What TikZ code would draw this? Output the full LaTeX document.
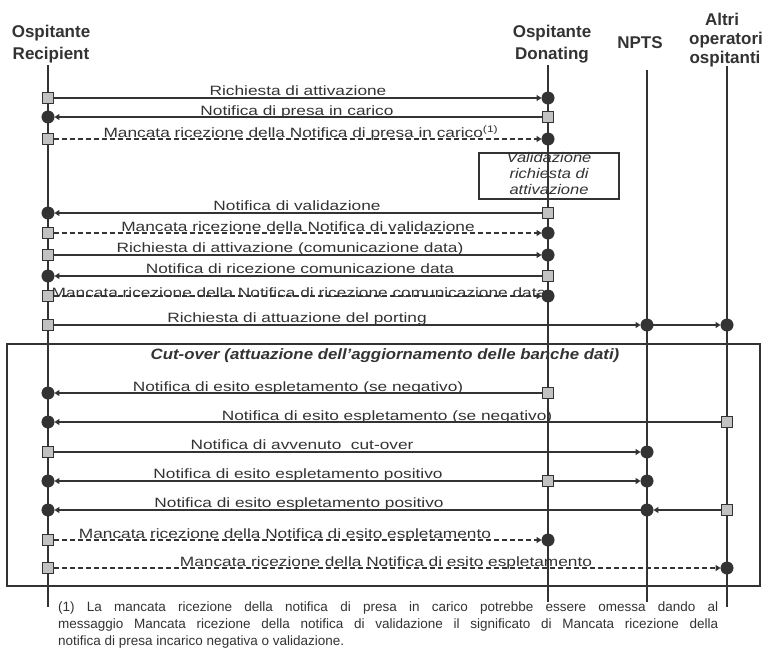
\documentclass[tikz,border=0pt]{standalone}
\usepackage{fontspec}
\setmainfont{Liberation Sans}
\usepackage{graphicx}
\usetikzlibrary{arrows.meta}
\definecolor{ink}{HTML}{333333}
\definecolor{sqfill}{HTML}{C2C2C2}
\newcommand{\wlbl}[1]{\scalebox{1.28}[1]{#1}}
\begin{document}
\begin{tikzpicture}[x=1pt,y=-1pt,
  every node/.style={text=ink},
  lifethick/.style={draw=ink,line width=2.1pt},
  lifethin/.style={draw=ink,line width=1.1pt},
  lifemid/.style={draw=ink,line width=1.6pt},
  sq/.style={rectangle,draw=ink,fill=sqfill,line width=1.3pt,minimum size=11pt,inner sep=0pt},
  dot/.style={circle,draw=ink,fill=ink,minimum size=12.5pt,inner sep=0pt},
  msgthin/.style={draw=ink,line width=1.1pt},
  msgthick/.style={draw=ink,line width=2pt},
  arr/.style={-{Triangle[length=5pt,width=6pt]}},
  dsh/.style={dash pattern=on 5pt off 3pt},
  lbl/.style={anchor=base,inner sep=0pt,font=\fontsize{13.5}{16}\selectfont},
  hdr/.style={anchor=base,inner sep=0pt,font=\fontsize{17}{20}\selectfont\bfseries}]
\fill[white] (0,0) rectangle (767,648);
\useasboundingbox (0,0) rectangle (767,648);

% headers
\node[hdr] (hR1) at (51,37) {Ospitante};
\node[hdr] (hR2) at (51,59) {Recipient};
\node[hdr] (hD1) at (552,37) {Ospitante};
\node[hdr] (hD2) at (552,59) {Donating};
\node[hdr] (hN) at (640,48) {NPTS};
\node[hdr] (hA1) at (722,25) {Altri};
\node[hdr] (hA2) at (726,44) {operatori};
\node[hdr] (hA3) at (725,63) {ospitanti};

% lifelines
\coordinate (Rt) at (48,65); \coordinate (Rb) at (48,607);
\coordinate (Dt) at (548,65); \coordinate (Db) at (548,602);
\coordinate (Nt) at (647,70); \coordinate (Nb) at (647,602);
\coordinate (At) at (727,66); \coordinate (Ab) at (727,607);
\draw[lifethick] (Rt) -- (Rb);
\draw[lifethin] (Dt) -- (Db);
\draw[lifethick] (Nt) -- (Nb);
\draw[lifemid] (At) -- (Ab);

% boxes
\node[draw=ink,line width=1.6pt,minimum width=140pt,minimum height=46pt,inner sep=0pt] (val) at (549,176) {};
\node[align=center,inner sep=0pt,font=\fontsize{14}{16}\selectfont\itshape] (valtxt) at (549,173)
  {\scalebox{1.18}[1]{Validazione}\\\scalebox{1.18}[1]{richiesta di}\\\scalebox{1.18}[1]{attivazione}};
\node[draw=ink,line width=2pt,minimum width=753pt,minimum height=242pt,inner sep=0pt] (cutbox) at (383.5,465) {};
\node[anchor=base,inner sep=0pt,font=\fontsize{15}{18}\selectfont\bfseries\itshape] (cut) at (385,359)
  {\scalebox{1.12}[1]{Cut-over (attuazione dell’aggiornamento delle banche dati)}};

% markers
\node[sq] (s1) at (48,98) {};   \node[dot] (d1) at (548,98) {};
\node[sq] (s2) at (548,117) {}; \node[dot] (d2) at (48,117) {};
\node[sq] (s3) at (48,139) {};  \node[dot] (d3) at (548,139) {};
\node[sq] (s4) at (548,213) {}; \node[dot] (d4) at (48,213) {};
\node[sq] (s5) at (48,233) {};  \node[dot] (d5) at (548,233) {};
\node[sq] (s6) at (48,255) {};  \node[dot] (d6) at (548,255) {};
\node[sq] (s7) at (548,276) {}; \node[dot] (d7) at (48,276) {};
\node[sq] (s8) at (48,296) {};  \node[dot] (d8) at (548,296) {};
\node[sq] (s9) at (48,325) {};  \node[dot] (d9) at (647,325) {}; \node[dot] (e9) at (727,325) {};
\node[sq] (s10) at (548,393) {}; \node[dot] (d10) at (48,393) {};
\node[sq] (s11) at (727,422) {}; \node[dot] (d11) at (48,422) {};
\node[sq] (s12) at (48,452) {};  \node[dot] (d12) at (647,452) {};
\node[sq] (s13) at (548,481) {}; \node[dot] (d13) at (48,481) {}; \node[dot] (e13) at (647,481) {};
\node[sq] (s14) at (727,510) {}; \node[dot] (d14) at (647,510) {}; \node[dot] (e14) at (48,510) {};
\node[sq] (s15) at (48,540) {};  \node[dot] (d15) at (548,540) {};
\node[sq] (s16) at (48,568) {};  \node[dot] (d16) at (727,568) {};

% messages
\draw[msgthin,arr] (s1) -- (d1);
\draw[msgthick,arr] (s2) -- (d2);
\draw[msgthick,dsh,arr] (s3) -- (d3);
\draw[msgthick,arr] (s4) -- (d4);
\draw[msgthin,dsh,arr] (s5) -- (d5);
\draw[msgthin,arr] (s6) -- (d6);
\draw[msgthick,arr] (s7) -- (d7);
\draw[msgthin,dsh,arr] (s8) -- (d8);
\draw[msgthick,arr] (s9) -- (d9);
\draw[msgthick,arr] (d9) -- (e9);
\draw[msgthick,arr] (s10) -- (d10);
\draw[msgthick,arr] (s11) -- (d11);
\draw[msgthick,arr] (s12) -- (d12);
\draw[msgthick,arr] (s13) -- (d13);
\draw[msgthick,arr] (s13) -- (e13);
\draw[msgthick,arr] (s14) -- (d14);
\draw[msgthick,arr] (d14) -- (e14);
\draw[msgthick,dsh,arr] (s15) -- (d15);
\draw[msgthick,dsh,arr] (s16) -- (d16);

% labels
\node[lbl] (l1) at (298,95.5) {\wlbl{Richiesta di attivazione}};
\node[lbl] (l2) at (297,115) {\wlbl{Notifica di presa in carico}};
\node[lbl] (l3) at (301,137.5) {\wlbl{Mancata ricezione della Notifica di presa in carico\textsuperscript{(1)}}};
\node[lbl] (l4) at (297,210.5) {\wlbl{Notifica di validazione}};
\node[lbl] (l5) at (298,231) {\wlbl{Mancata ricezione della Notifica di validazione}};
\node[lbl] (l6) at (290,252.5) {\wlbl{Richiesta di attivazione (comunicazione data)}};
\node[lbl] (l7) at (300,273.5) {\wlbl{Notifica di ricezione comunicazione data}};
\node[lbl] (l8) at (299,297.5) {\wlbl{Mancata ricezione della Notifica di ricezione comunicazione data}};
\node[lbl] (l9) at (297,322.5) {\wlbl{Richiesta di attuazione del porting}};
\node[lbl] (l10) at (298,391) {\wlbl{Notifica di esito espletamento (se negativo)}};
\node[lbl] (l11) at (387,420) {\wlbl{Notifica di esito espletamento (se negativo)}};
\node[lbl] (l12) at (302,449.5) {\wlbl{Notifica di avvenuto\ \ cut-over}};
\node[lbl] (l13) at (298,478.5) {\wlbl{Notifica di esito espletamento positivo}};
\node[lbl] (l14) at (299,507.5) {\wlbl{Notifica di esito espletamento positivo}};
\node[lbl] (l15) at (285,538) {\wlbl{Mancata ricezione della Notifica di esito espletamento}};
\node[lbl] (l16) at (386,566) {\wlbl{Mancata ricezione della Notifica di esito espletamento}};

% footnote
\node[anchor=base west,inner sep=0pt,font=\fontsize{13.5}{17}\selectfont] (fn) at (58,611)
  {\parbox[t]{660pt}{(1) La mancata ricezione della notifica di presa in carico potrebbe essere omessa dando al\linebreak messaggio Mancata ricezione della notifica di validazione il significato di Mancata ricezione della\linebreak notifica di presa incarico negativa o validazione.}};
\end{tikzpicture}
\end{document}
